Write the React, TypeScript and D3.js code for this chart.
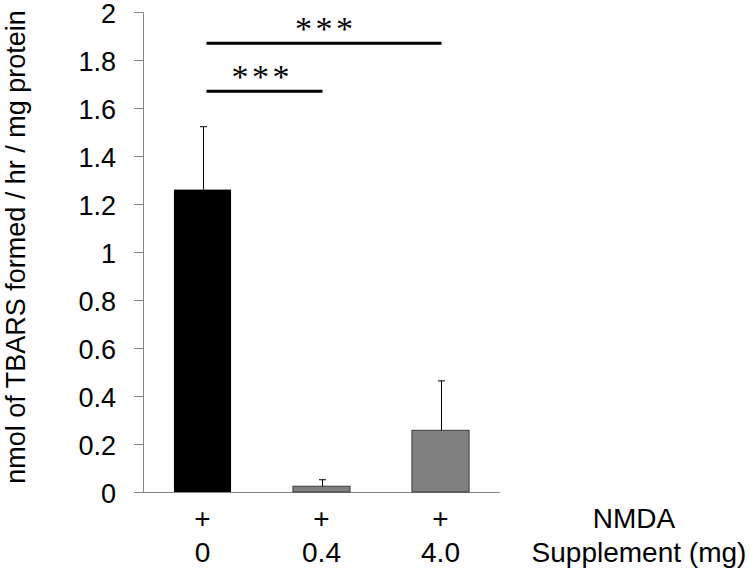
import React, { useRef, useEffect } from 'react';
import * as d3 from 'd3';

// data
const supplements = ['0', '0.4', '4.0'];
const nmdaLabels = ['+', '+', '+'];
const means = [1.26, 0.024, 0.257];
const errors = [0.262, 0.027, 0.206];
const barFills = ['#000000', '#808080', '#808080'];
const yTicks = [0, 0.2, 0.4, 0.6, 0.8, 1, 1.2, 1.4, 1.6, 1.8, 2];
const sigFrom = ['0', '0'];
const sigTo = ['0.4', '4.0'];
const sigLevel = [1.67, 1.87];
const sigLabel = ['***', '***'];

const width = 750;
const height = 572;
const font = 'Arial, "Liberation Sans", Helvetica, sans-serif';

const App = () => {
  const ref = useRef<SVGSVGElement>(null);

  useEffect(() => {
    const svg = d3.select(ref.current);
    svg.selectAll('*').remove();

    const x = d3
      .scaleBand<string>()
      .domain(supplements)
      .range([143, 500])
      .paddingInner(0.52)
      .paddingOuter(0.26);
    const y = d3.scaleLinear().domain([0, 2]).range([492, 12]);
    const cx = (k: string) => (x(k) as number) + x.bandwidth() / 2;

    // y axis
    const yAxis = svg
      .append('g')
      .attr('transform', 'translate(143,0)')
      .call(
        d3
          .axisLeft(y)
          .tickValues(yTicks)
          .tickSize(9)
          .tickPadding(18)
          .tickFormat(d => String(+(+d).toFixed(1)))
      );
    yAxis.select('.domain').attr('stroke', '#868686').attr('d', 'M-9,12.5H0.5V492.5H-9');
    yAxis.selectAll('.tick line').attr('stroke', '#868686');
    yAxis
      .selectAll('.tick text')
      .attr('font-family', font)
      .attr('font-size', 27)
      .attr('dy', '0.4em')
      .attr('fill', '#000');

    // x baseline
    svg
      .append('line')
      .attr('x1', 134)
      .attr('x2', 500)
      .attr('y1', y(0) + 0.5)
      .attr('y2', y(0) + 0.5)
      .attr('stroke', '#868686');

    // bars
    svg
      .selectAll('rect.bar')
      .data(supplements)
      .enter()
      .append('rect')
      .attr('class', 'bar')
      .attr('x', d => x(d) as number)
      .attr('width', x.bandwidth())
      .attr('y', (d, i) => y(means[i]))
      .attr('height', (d, i) => y(0) - y(means[i]))
      .attr('fill', (d, i) => barFills[i])
      .attr('stroke', (d, i) => (i === 0 ? 'none' : '#3a3a3a'))
      .attr('stroke-width', 1);

    // error bars (upper only)
    const err = svg.append('g').attr('stroke', '#000').attr('stroke-width', 1);
    supplements.forEach((d, i) => {
      const c = Math.round(cx(d)) + 0.5;
      err
        .append('line')
        .attr('x1', c)
        .attr('x2', c)
        .attr('y1', y(means[i]))
        .attr('y2', y(means[i] + errors[i]));
      err
        .append('line')
        .attr('x1', c - 3.5)
        .attr('x2', c + 3.5)
        .attr('y1', y(means[i] + errors[i]))
        .attr('y2', y(means[i] + errors[i]));
    });

    // significance brackets
    sigFrom.forEach((f, i) => {
      const x1 = cx(f) + 4;
      const x2 = cx(sigTo[i]) + 1;
      const yy = y(sigLevel[i]);
      svg
        .append('line')
        .attr('x1', x1)
        .attr('x2', x2)
        .attr('y1', yy)
        .attr('y2', yy)
        .attr('stroke', '#000')
        .attr('stroke-width', 3);
      const mid = (x1 + x2) / 2 - (i === 0 ? 4 : 0);
      sigLabel[i].split('').forEach((s, j) => {
        svg
          .append('text')
          .attr('x', mid + (j - 1) * 20.5)
          .attr('y', yy - 3)
          .attr('text-anchor', 'middle')
          .attr('font-family', '"Liberation Serif", "Times New Roman", serif')
          .attr('font-size', 34)
          .text(s);
      });
    });

    // category labels
    const labels = svg
      .append('g')
      .attr('font-family', font)
      .attr('font-size', 28)
      .attr('text-anchor', 'middle')
      .attr('fill', '#000');
    supplements.forEach((d, i) => {
      labels
        .append('text')
        .attr('x', cx(d))
        .attr('y', 518)
        .attr('dy', '0.35em')
        .text(nmdaLabels[i]);
      labels
        .append('text')
        .attr('x', cx(d))
        .attr('y', 552)
        .attr('dy', '0.35em')
        .text(d);
    });
    labels.append('text').attr('x', 634).attr('y', 518).attr('dy', '0.35em').text('NMDA');
    labels.append('text').attr('x', 639).attr('y', 552).attr('dy', '0.35em').text('Supplement (mg)');

    // y title
    svg
      .append('text')
      .attr('transform', 'translate(16,247) rotate(-90)')
      .attr('text-anchor', 'middle')
      .attr('dy', '0.35em')
      .attr('font-family', font)
      .attr('font-size', 27)
      .text('nmol of TBARS formed / hr / mg protein');
  }, []);

  return (
    <div>
      <svg
        ref={ref}
        width={width}
        height={height}
        style={{ position: 'absolute', left: 0, top: 0, background: '#fff' }}
      ></svg>
    </div>
  );
};

export default App;
